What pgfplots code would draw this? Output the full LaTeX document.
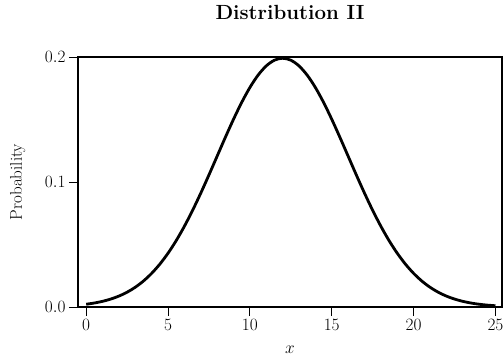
\documentclass[border=0pt]{standalone}
\usepackage{pgfplots}
\pgfplotsset{compat=1.18}
\pgfplotstableread{
x y
0 0.00221
0.5 0.00319
1 0.00454
1.5 0.00635
2 0.00874
2.5 0.01186
3 0.01583
3.5 0.02081
4 0.02693
4.5 0.03431
5 0.04304
5.5 0.05314
6 0.06461
6.5 0.07732
7 0.09111
7.5 0.10569
8 0.12070
8.5 0.13571
9 0.15021
9.5 0.16369
10 0.17562
10.5 0.18549
11 0.19288
11.5 0.19745
12 0.19900
12.5 0.19745
13 0.19288
13.5 0.18549
14 0.17562
14.5 0.16369
15 0.15021
15.5 0.13571
16 0.12070
16.5 0.10569
17 0.09111
17.5 0.07732
18 0.06461
18.5 0.05314
19 0.04304
19.5 0.03431
20 0.02693
20.5 0.02081
21 0.01583
21.5 0.01186
22 0.00874
22.5 0.00635
23 0.00454
23.5 0.00319
24 0.00221
24.5 0.00151
25 0.00101
}\curve
\begin{document}
\begin{tikzpicture}
\useasboundingbox (-78pt,-53pt) rectangle (426pt,307pt);
\begin{axis}[
  at={(0,0)}, anchor=south west,
  scale only axis, width=424pt, height=250pt,
  xmin=-0.5, xmax=25.4, ymin=0, ymax=0.2,
  xtick={0,5,10,15,20,25}, ytick={0,0.1,0.2},
  yticklabel style={/pgf/number format/.cd, fixed, fixed zerofill, precision=1},
  tick pos=left, tick align=outside,
  major tick length=9pt,
  tick style={line width=0.9pt, black},
  ticklabel style={font=\fontsize{17.5}{20}\selectfont},
  axis line style={line width=1.3pt},
  title={\textbf{Distribution II}},
  title style={font=\fontsize{20.5}{24}\selectfont, at={(axis description cs:0.5,1.156)}, anchor=center},
  xlabel={$x$},
  xlabel style={font=\fontsize{17}{20}\selectfont, at={(axis description cs:0.5,-0.172)}, anchor=center},
  ylabel={Probability},
  ylabel style={font=\fontsize{17}{20}\selectfont, at={(axis description cs:-0.142,0.5)}, anchor=center},
]
\addplot[black, line width=2.8pt, smooth] table {\curve};
\end{axis}
\end{tikzpicture}
\end{document}
